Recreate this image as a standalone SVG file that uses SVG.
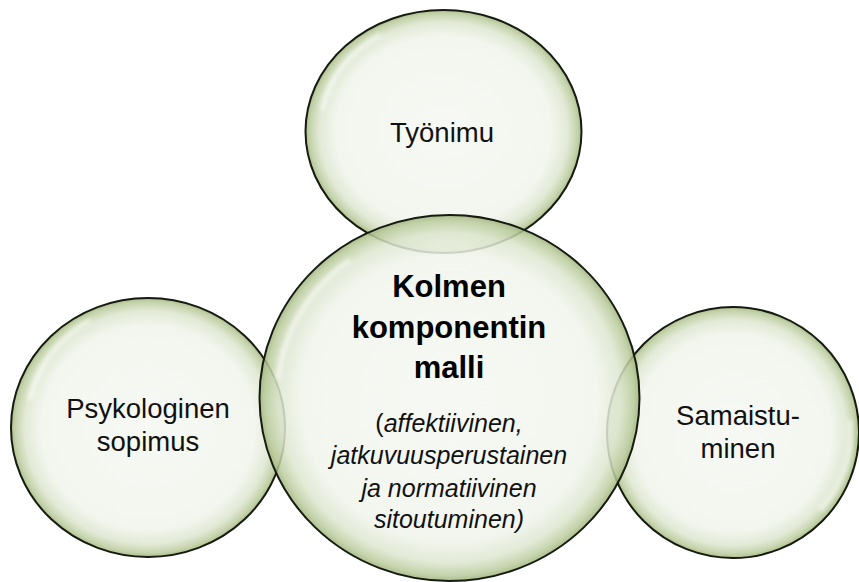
<svg xmlns="http://www.w3.org/2000/svg" width="859" height="582" viewBox="0 0 859 582">
<defs>
<radialGradient id="bub" cx="0.5" cy="0.5" r="0.5">
<stop offset="0" stop-color="#f5f7f2"/>
<stop offset="0.78" stop-color="#f1f4ec"/>
<stop offset="0.9" stop-color="#dde6cf"/>
<stop offset="0.97" stop-color="#bacb9c"/>
<stop offset="1" stop-color="#9db37b"/>
</radialGradient>
<filter id="blur" x="-10%" y="-10%" width="120%" height="120%"><feGaussianBlur stdDeviation="2"/></filter>
</defs>
<style>
.b{fill:url(#bub);fill-opacity:0.85;stroke:#161a10;stroke-width:2}
.hl{fill:none;stroke:#ffffff;stroke-width:4;stroke-opacity:0.7;filter:url(#blur)}
.t{font-family:"Liberation Sans",Arial,sans-serif;font-size:27.5px;fill:#111;text-anchor:middle}
.tb{font-family:"Liberation Sans",Arial,sans-serif;font-size:31px;font-weight:bold;fill:#000;text-anchor:middle}
.ti{font-family:"Liberation Sans",Arial,sans-serif;font-size:25px;font-style:italic;fill:#111;text-anchor:middle}
</style>
<rect width="859" height="582" fill="#ffffff"/>
<g id="psykologinen">
<ellipse class="b" cx="148" cy="427.5" rx="137" ry="129.5"/>
<path class="hl" d="M30,400 A122,116 0 0 1 90,320"/>
<text class="t" x="148" y="418">Psykologinen</text>
<text class="t" x="148" y="451">sopimus</text>
</g>
<g id="samaistuminen">
<ellipse class="b" cx="733" cy="432.5" rx="126" ry="125.5"/>
<path class="hl" d="M850,420 A112,112 0 0 1 820,510"/>
<text class="t" x="738" y="425">Samaistu-</text>
<text class="t" x="738" y="458">minen</text>
</g>
<g id="tyonimu">
<ellipse class="b" cx="443.5" cy="131.5" rx="138" ry="121.5"/>
<path class="hl" d="M322,110 A122,108 0 0 1 380,35"/>
<text class="t" x="442" y="142">Työnimu</text>
</g>
<g id="kolmen">
<ellipse class="b" cx="449.5" cy="398" rx="190" ry="183"/>
<path class="hl" d="M278,380 A172,165 0 0 1 350,260"/>
<text class="tb" x="449" y="297">Kolmen</text>
<text class="tb" x="449" y="338">komponentin</text>
<text class="tb" x="449" y="378">malli</text>
<text class="ti" x="449" y="432"><tspan font-style="normal">(</tspan>affektiivinen,</text>
<text class="ti" x="449" y="464">jatkuvuusperustainen</text>
<text class="ti" x="449" y="497">ja normatiivinen</text>
<text class="ti" x="449" y="528">sitoutuminen)</text>
</g>
<g id="connectors"/>
</svg>
